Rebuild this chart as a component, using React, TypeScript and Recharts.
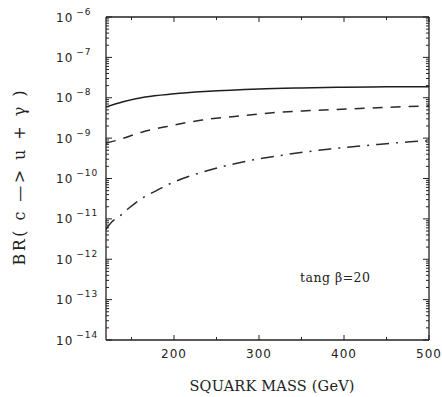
import React from 'react';
import { LineChart, Line, XAxis, YAxis } from 'recharts';

// ---- data ----
const solidMass = [120, 140, 166, 200, 236, 300, 350, 400, 450, 500];
const solidBR = [5.9e-9, 8e-9, 1.05e-8, 1.25e-8, 1.42e-8, 1.65e-8, 1.75e-8, 1.82e-8, 1.86e-8, 1.88e-8];

const dashedMass = [120, 134, 162, 192, 233, 280, 313, 360, 407, 450, 500];
const dashedBR = [7.5e-10, 9e-10, 1.4e-9, 1.95e-9, 2.8e-9, 3.6e-9, 4.2e-9, 4.8e-9, 5.3e-9, 5.8e-9, 6.3e-9];

const dotDashMass = [120, 127, 135, 146, 162, 174, 192, 242, 281, 328, 384, 434, 478, 500];
const dotDashBR = [5.5e-12, 8.5e-12, 1.12e-11, 1.78e-11, 3.2e-11, 4.4e-11, 6.9e-11, 1.62e-10, 2.57e-10, 3.8e-10, 5.4e-10, 6.8e-10, 8.1e-10, 8.6e-10];

const xTicks = [150, 200, 250, 300, 350, 400, 450, 500];
const xLabelTicks = [200, 300, 400, 500];
const yDecadeExps = [-14, -13, -12, -11, -10, -9, -8, -7, -6];
const yMinorMultipliers = [2, 3, 4, 5, 6, 7, 8, 9];

const yTitle = 'BR( c —> u + γ )';
const xTitle = 'SQUARK MASS (GeV)';
const annotation = 'tang  β=20';

// ---- derived tables ----
const zip = (xs: number[], ys: number[]) => xs.map((m, i) => ({ m, v: ys[i] }));
const solidData = zip(solidMass, solidBR);
const dashedData = zip(dashedMass, dashedBR);
const dotDashData = zip(dotDashMass, dotDashBR);

const yTicks: number[] = [];
yDecadeExps.forEach((e) => {
  yTicks.push(Math.pow(10, e));
  if (e < -6) yMinorMultipliers.forEach((k) => yTicks.push(k * Math.pow(10, e)));
});

const INK = '#222';
const isDecade = (v: number) => {
  const l = Math.log10(v);
  return Math.abs(l - Math.round(l)) < 1e-6;
};

const LeftTick = (props: any) => {
  const { x, y, payload } = props;
  const v = payload.value;
  const major = isDecade(v);
  const exp = Math.round(Math.log10(v));
  return (
    <g>
      <line x1={x} y1={y} x2={x + (major ? 6 : 3)} y2={y} stroke={INK} strokeWidth={1} />
      {major && (
        <text x={x - 50} y={y + 4.5} fill={INK} fontFamily="DejaVu Sans" fontSize={12} letterSpacing={1}>
          10
          <tspan dx={3} dy={-7} fontSize={9}>{'−' + String(-exp)}</tspan>
        </text>
      )}
    </g>
  );
};

const RightTick = (props: any) => {
  const { x, y, payload } = props;
  const major = isDecade(payload.value);
  return <line x1={x} y1={y} x2={x - (major ? 6 : 3)} y2={y} stroke={INK} strokeWidth={1} />;
};

const BottomTick = (props: any) => {
  const { x, y, payload } = props;
  const v = payload.value;
  const major = xLabelTicks.includes(v);
  return (
    <g>
      <line x1={x} y1={y} x2={x} y2={y - (major ? 5 : 3)} stroke={INK} strokeWidth={1} />
      {major && (
        <text x={x} y={y + 18} textAnchor="middle" fill={INK} fontFamily="DejaVu Sans" fontSize={12} letterSpacing={1}>
          {v}
        </text>
      )}
    </g>
  );
};

const TopTick = (props: any) => {
  const { x, y, payload } = props;
  const major = xLabelTicks.includes(payload.value);
  return <line x1={x} y1={y} x2={x} y2={y + (major ? 5 : 3)} stroke={INK} strokeWidth={1} />;
};

const axisLine = { stroke: INK, strokeWidth: 1.3 };

export default function App() {
  const W = 442;
  const H = 397;
  return (
    <div style={{ position: 'absolute', left: 0, top: 0, width: W, height: H, background: '#fff' }}>
      <LineChart width={W} height={H} margin={{ top: 0, right: 0, bottom: 0, left: 0 }}>
        <XAxis
          xAxisId="b"
          type="number"
          dataKey="m"
          domain={[120, 500]}
          allowDataOverflow
          ticks={xTicks}
          interval={0}
          tickSize={0}
          tickMargin={0}
          tick={BottomTick}
          tickLine={false}
          axisLine={axisLine}
          height={57}
          orientation="bottom"
        />
        <XAxis
          xAxisId="t"
          type="number"
          dataKey="m"
          domain={[120, 500]}
          allowDataOverflow
          ticks={xTicks}
          interval={0}
          tickSize={0}
          tickMargin={0}
          tick={TopTick}
          tickLine={false}
          axisLine={axisLine}
          height={17}
          orientation="top"
        />
        <YAxis
          yAxisId="l"
          type="number"
          scale="log"
          dataKey="v"
          domain={[1e-14, 1e-6]}
          allowDataOverflow
          ticks={yTicks}
          interval={0}
          tickSize={0}
          tickMargin={0}
          tick={LeftTick}
          tickLine={false}
          axisLine={axisLine}
          width={106}
          orientation="left"
        />
        <YAxis
          yAxisId="r"
          type="number"
          scale="log"
          dataKey="v"
          domain={[1e-14, 1e-6]}
          allowDataOverflow
          ticks={yTicks}
          interval={0}
          tickSize={0}
          tickMargin={0}
          tick={RightTick}
          tickLine={false}
          axisLine={axisLine}
          width={13}
          orientation="right"
        />
        <Line xAxisId="b" yAxisId="l" data={solidData} dataKey="v" type="monotone" stroke="#1e1e1e" strokeWidth={1.5} dot={false} isAnimationActive={false} />
        <Line xAxisId="b" yAxisId="l" data={dashedData} dataKey="v" type="monotone" stroke="#2a2a2a" strokeWidth={1.5} strokeDasharray="10 8" dot={false} isAnimationActive={false} />
        <Line xAxisId="b" yAxisId="l" data={dotDashData} dataKey="v" type="monotone" stroke="#2a2a2a" strokeWidth={1.5} strokeDasharray="13 7 2 7" dot={false} isAnimationActive={false} />
        <Line xAxisId="t" yAxisId="r" data={solidData} dataKey="v" type="monotone" stroke="none" strokeWidth={0} dot={false} isAnimationActive={false} />
      </LineChart>
      <svg width={W} height={H} style={{ position: 'absolute', left: 0, top: 0, pointerEvents: 'none' }}>
        <text
          x={19}
          y={178}
          transform="rotate(-90 19 178)"
          textAnchor="middle"
          dominantBaseline="central"
          fontFamily="DejaVu Serif"
          fontSize={16}
          fill={INK}
          textLength={175}
          lengthAdjust="spacing"
        >
          {yTitle}
        </text>
        <text x={272} y={391} textAnchor="middle" fontFamily="DejaVu Serif" fontSize={14.5} fill={INK} textLength={165} lengthAdjust="spacing">
          {xTitle}
        </text>
        <text x={300} y={282} fontFamily="DejaVu Serif" fontSize={12.5} fill={INK} textLength={70} lengthAdjust="spacing">
          {annotation}
        </text>
      </svg>
    </div>
  );
}
